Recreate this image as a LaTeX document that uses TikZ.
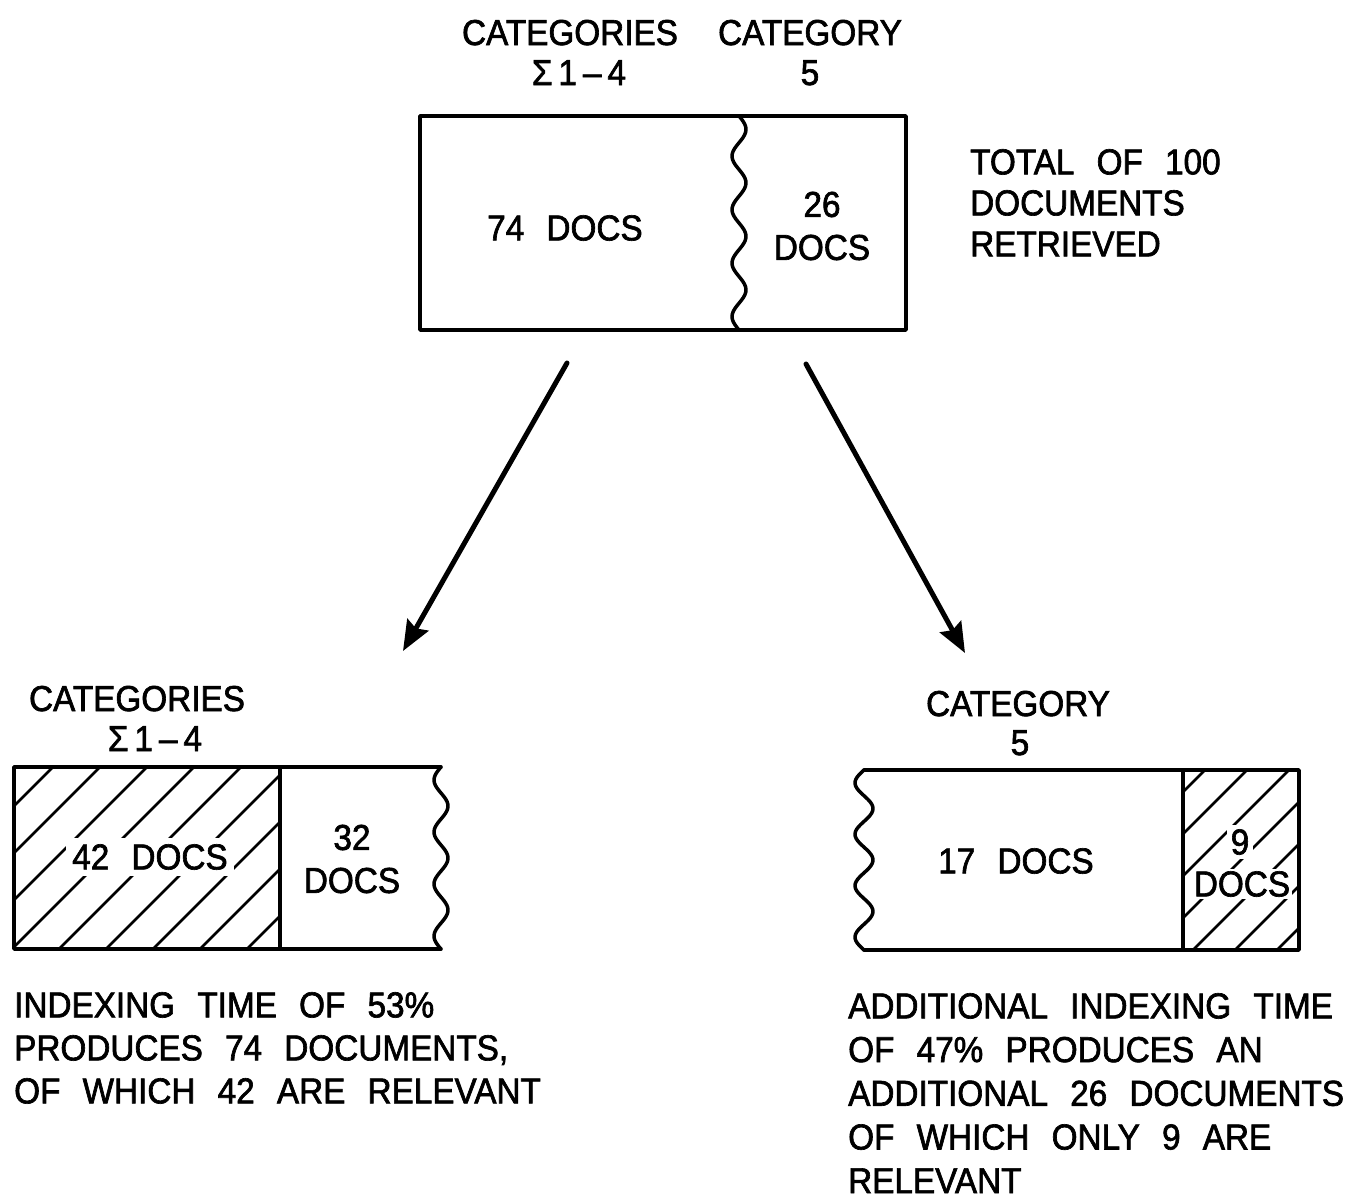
\documentclass[tikz,border=0pt]{standalone}
\usepackage{fontspec}
\setmainfont[WordSpace=2.4, FakeStretch=0.925, FakeBold=1.8]{Liberation Sans}
\usetikzlibrary{arrows.meta}
\begin{document}
\begin{tikzpicture}[x=1pt,y=-1pt,
  txt/.style={font=\fontsize{36}{43}\selectfont, inner sep=0pt},
  boxline/.style={line width=3.5pt, line join=round, line cap=round},
  hatchline/.style={line width=2.6pt, line cap=round},
  arr/.style={line width=5pt, line cap=round, -{Stealth[length=30pt,width=24pt,inset=4pt]}},
  gap/.style={fill=white, inner sep=6pt}
]
\useasboundingbox (0,0) rectangle (1347,1200);

% ---------- top labels ----------
\node[txt, anchor=base] (catA) at (570,45) {CATEGORIES};
\node[txt, anchor=base] (sigA) at (579,85) {Σ\,1\,–\,4};
\node[txt, anchor=base] (catB) at (810,45) {CATEGORY};
\node[txt, anchor=base] (fiveB) at (810,85) {5};

% ---------- top box ----------
\node[draw, boxline, minimum width=486pt, minimum height=214pt, inner sep=0pt] (topbox) at (663,223) {};
\draw[boxline] plot[smooth, samples=80, domain=116:330] ({739+7*sin(6.73*(\x-116))},\x);
\node[txt] (t74) at (565,228) {74 DOCS};
\node[txt, align=center] (t26) at (822,226) {26\\DOCS};
\node[txt, align=left, anchor=north west, font=\fontsize{36}{41}\selectfont] (total) at (970,149) {TOTAL OF 100\\DOCUMENTS\\RETRIEVED};

% ---------- arrows ----------
\coordinate (a1s) at (567,363);
\coordinate (a1e) at (403,651);
\coordinate (a2s) at (806,364);
\coordinate (a2e) at (965,653);
\draw[arr] (a1s) -- (a1e);
\draw[arr] (a2s) -- (a2e);

% ---------- bottom left ----------
\node[txt, anchor=base] (catL) at (137,711) {CATEGORIES};
\node[txt, anchor=base] (sigL) at (155,751) {Σ\,1\,–\,4};
\begin{scope}
  \clip (14,767) rectangle (280,949);
  \foreach \c in {773,820,...,1250} \draw[hatchline] (\c-949,949) -- (\c-767,767);
\end{scope}
\node[txt, gap] (t42) at (150,857) {42 DOCS};
\node[txt, align=center] (t32) at (352,859) {32\\DOCS};
\draw[boxline] (441,767) -- (14,767) -- (14,949) -- (441,949);
\draw[boxline] plot[smooth, samples=80, domain=767:949] ({441-7*sin(6.92*(\x-767))},\x);
\draw[boxline] (280,767) -- (280,949);
\node[txt, align=left, anchor=north west] (pL) at (14,992)
  {INDEXING TIME OF 53\%\\PRODUCES 74 DOCUMENTS,\\OF WHICH 42 ARE RELEVANT};

% ---------- bottom right ----------
\node[txt, anchor=base] (catR) at (1018,716) {CATEGORY};
\node[txt, anchor=base] (fiveR) at (1020,755) {5};
\begin{scope}
  \clip (1183,770) rectangle (1299,950);
  \foreach \c in {1975,2017,...,2290} \draw[hatchline] (\c-950,950) -- (\c-770,770);
\end{scope}
\node[txt, gap, inner sep=4pt] (t9) at (1240,842) {9};
\node[txt, gap, inner sep=2pt] (t9d) at (1242,884) {DOCS};
\node[txt] (t17) at (1016,861) {17 DOCS};
\draw[boxline] (864,770) -- (1299,770) -- (1299,950) -- (864,950);
\draw[boxline] plot[smooth, samples=80, domain=770:950] ({864-9*sin(7.0*(\x-770))},\x);
\draw[boxline] (1183,770) -- (1183,950);
\node[txt, align=left, anchor=north west, font=\fontsize{36}{43.7}\selectfont] (pR) at (848,993)
  {ADDITIONAL INDEXING TIME\\OF 47\% PRODUCES AN\\ADDITIONAL 26 DOCUMENTS\\OF WHICH ONLY 9 ARE\\RELEVANT};
\end{tikzpicture}
\end{document}
